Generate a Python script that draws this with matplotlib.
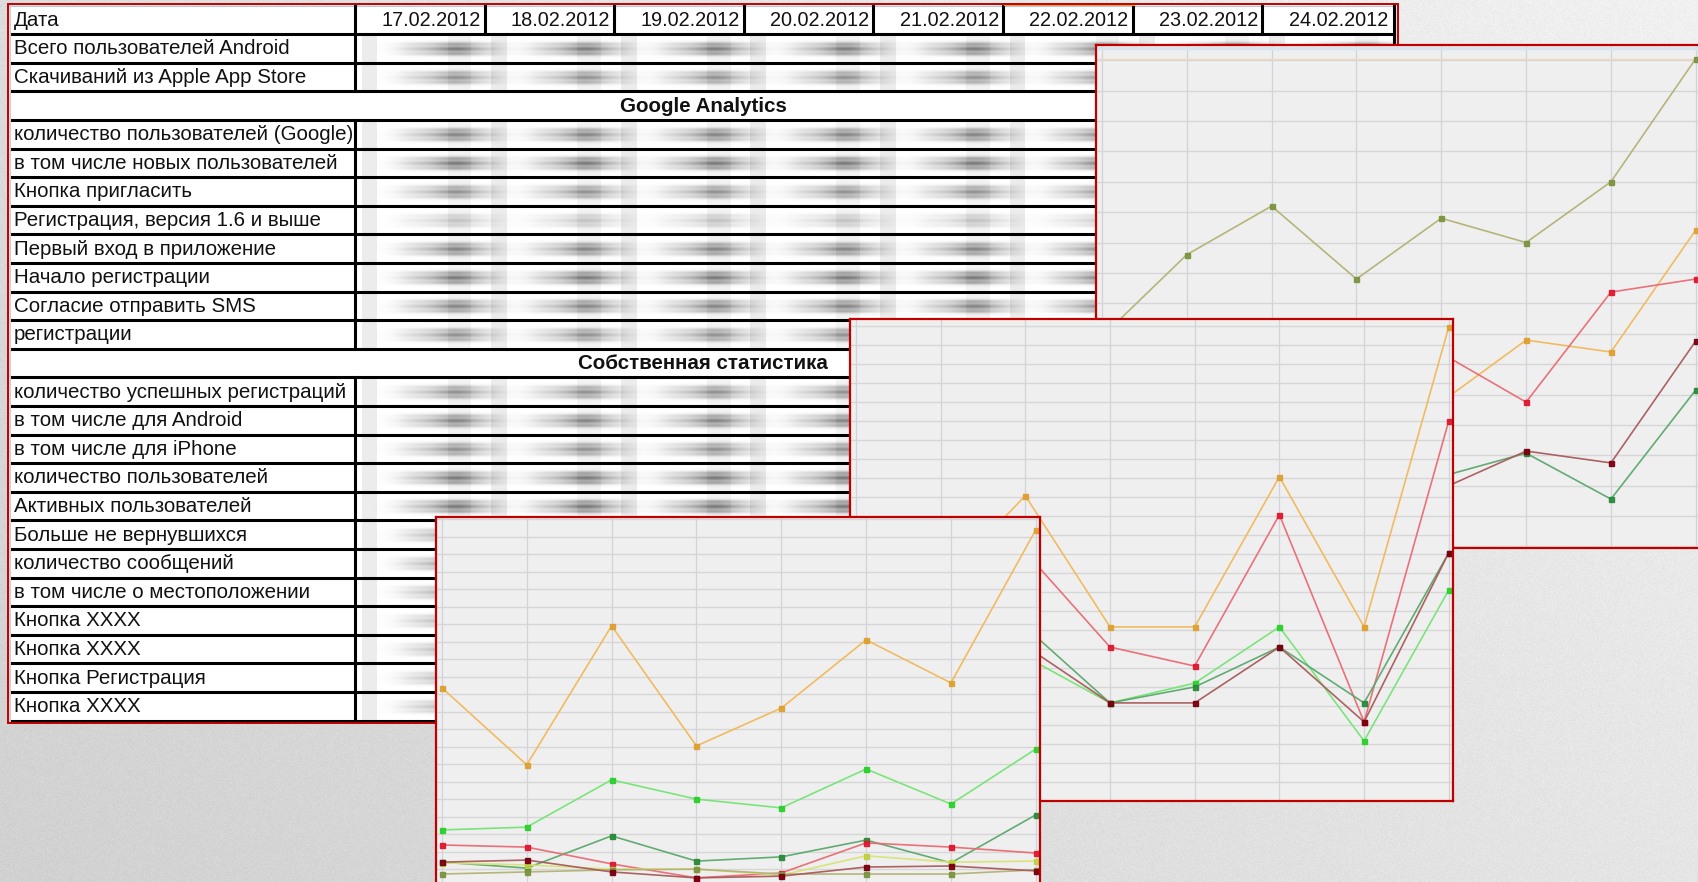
import numpy as np
import matplotlib.pyplot as plt
from matplotlib.patches import Rectangle

W, H = 1698, 882

# ---- table content ----
dates = ['17.02.2012', '18.02.2012', '19.02.2012', '20.02.2012',
         '21.02.2012', '22.02.2012', '23.02.2012', '24.02.2012']
row_labels = [
    'Дата',
    'Всего пользователей Android',
    'Скачиваний из Apple App Store',
    'Google Analytics',
    'количество пользователей (Google)',
    'в том числе новых пользователей',
    'Кнопка пригласить',
    'Регистрация, версия 1.6 и выше',
    'Первый вход в приложение',
    'Начало регистрации',
    'Согласие отправить SMS',
    'регистрации',
    'Собственная статистика',
    'количество успешных регистраций',
    'в том числе для Android',
    'в том числе для iPhone',
    'количество пользователей',
    'Активных пользователей',
    'Больше не вернувшихся',
    'количество сообщений',
    'в том числе о местоположении',
    'Кнопка XXXX',
    'Кнопка XXXX',
    'Кнопка Регистрация',
    'Кнопка XXXX',
]
section_rows = [3, 12]
# how dark the (hidden) numbers in each row come out
row_shade = [0, .66, .55, 0, .62, .68, .55, .28, .62, .68, .62, .55, 0,
             .55, .62, .55, .68, .68, .55, .62, .55, .5, .5, .5, .5]

# ---- chart series, one value per date ----
days = np.arange(8)

# back chart (top right)
a_olive = [690, 960, 1120, 880, 1080, 1000, 1200, 1605]
a_orange = [430, 380, 520, 400, 475, 679, 640, 1041]
a_red = [300, 260, 420, 350, 636, 475, 837, 880]
a_maroon = [120, 150, 220, 160, 189, 314, 275, 676]
a_green = [140, 170, 250, 190, 230, 307, 156, 515]

# middle chart
b_orange = [424, 571, 803, 458, 458, 853, 458, 1247]
b_red = [470, 600, 655, 405, 355, 753, 208, 1000]
b_dkgreen = [300, 350, 458, 258, 300, 405, 258, 653]
b_maroon = [280, 330, 408, 258, 258, 405, 208, 653]
b_ltgreen = [250, 320, 380, 258, 310, 458, 158, 555]

# front chart (bottom)
c_orange = [569, 349, 746, 403, 511, 706, 583, 1020]
c_ltgreen = [163, 171, 306, 251, 226, 337, 237, 394]
c_red = [120, 114, 66, 26, 40, 126, 114, 97]
c_dkgreen = [71, 54, 146, 74, 86, 134, 69, 206]
c_maroon = [71, 77, 43, 26, 31, 57, 60, 46]
c_ylgreen = [69, 63, 51, 51, 34, 89, 71, 74]
c_olive = [37, 43, 49, 51, 37, 37, 37, 49]

OLIVE = ('#b2b274', '#7c9440')
ORANGE = ('#f2b858', '#dea032')
RED = ('#ea6a74', '#e01830')
MAROON = ('#a85a5a', '#7a0010')
DKGREEN = ('#5aa86c', '#2a8a3a')
LTGREEN = ('#74e474', '#2cd02c')
YLGREEN = ('#d8e474', '#c0d040')

BORDER = '#c00000'

plt.rcParams['font.family'] = ['Liberation Sans', 'DejaVu Sans']

fig = plt.figure(figsize=(W / 100, H / 100), dpi=100)
bg = fig.add_axes([0, 0, 1, 1])
bg.set_xlim(0, W)
bg.set_ylim(H, 0)
bg.axis('off')

# paper-like gray backdrop
xx, yy = np.meshgrid(np.arange(W), np.arange(H))
base = 0.82 + 0.08 * xx / W + 0.045 * (1 - yy / H)
grain = np.modf(np.sin(xx * 12.9898 + yy * 78.233) * 43758.5453)[0]
tex = np.clip(base + 0.035 * (np.abs(grain) - 0.5), 0, 1)
bg.imshow(np.dstack([tex, tex, tex]), extent=[0, W, H, 0], aspect='auto', zorder=0)

# ---- table ----
t_left, t_right = 10, 1394
t_top, row_h = 5.5, 28.6
lab_w = 355
col_w = 129.6
n_rows = len(row_labels)
t_bot = t_top + n_rows * row_h

bg.add_patch(Rectangle((t_left, t_top), t_right - t_left, t_bot - t_top,
                       facecolor='white', edgecolor='none', zorder=1))

# blurred figures inside the date cells
shade = np.zeros((H, W))
for r in range(1, n_rows):
    if r in section_rows:
        continue
    yc = t_top + row_h * (r + 0.5)
    y0, y1 = int(yc - 14), int(yc + 14)
    ys = np.arange(y0, y1)[:, None]
    prof_y = (0.38 * np.exp(-((ys - yc + 5) / 1.9) ** 2)
              + 0.45 * np.exp(-((ys - yc) / 2.3) ** 2)
              + 0.38 * np.exp(-((ys - yc - 5) / 1.9) ** 2)
              + 0.4 * np.exp(-((ys - yc) / 5.5) ** 2))
    for j in range(8):
        cx = lab_w + col_w * j
        x0, x1 = int(cx), int(min(cx + 170, t_right))
        xs = np.arange(x0, x1)[None, :]
        body = 1 / (1 + np.exp(-(xs - cx - 48) / 8)) * 1 / (1 + np.exp((xs - cx - 142) / 7))
        core = np.exp(-((xs - cx - 100) / 22) ** 2)
        band = 0.1 * ((xs > cx + 6) & (xs < cx + 22)) + 0.06 * ((xs > cx + 92) & (xs < cx + 116))
        shade[y0:y1, x0:x1] += row_shade[r] * (0.55 * body + 0.6 * core) * prof_y + band
shade = np.clip(shade, 0, 0.8)
over = np.zeros((H, W, 4))
over[..., :3] = 0.28
over[..., 3] = shade
bg.imshow(over, extent=[0, W, H, 0], aspect='auto', zorder=2)

# grid of the table
for i in range(1, n_rows + 1):
    y = t_top + i * row_h
    bg.plot([t_left, t_right], [y, y], color='black', lw=2.2, zorder=3,
            solid_capstyle='butt')
bg.plot([t_left, t_right], [t_top, t_top], color='#b8c8d8', lw=0.8, zorder=3)
bg.plot([t_left, t_left], [t_top, t_bot], color='#c8d0d8', lw=0.8, zorder=3)
for r in range(n_rows):
    if r in section_rows:
        continue
    ya, yb = t_top + r * row_h, t_top + (r + 1) * row_h
    bg.plot([lab_w, lab_w], [ya, yb], color='black', lw=2.2, zorder=3)
    bg.plot([t_right, t_right], [ya, yb], color='black', lw=2.2, zorder=3)
for j in range(1, 8):
    x = lab_w + col_w * j
    bg.plot([x, x], [t_top, t_top + row_h], color='black', lw=2.2, zorder=3)
bg.plot([1005, 1134], [t_top - 0.5, t_top - 0.5], color='#f0a040', lw=1.5, zorder=3)

# table text
fs = 14.8
for r, lab in enumerate(row_labels):
    yc = t_top + row_h * (r + 0.5) + 0.5
    if r in section_rows:
        bg.text(703, yc, lab, ha='center', va='center', fontsize=fs,
                fontweight='bold', color='#111111', zorder=4)
    else:
        bg.text(14, yc, lab, ha='left', va='center', fontsize=fs,
                color='#111111', zorder=4)
for j, d in enumerate(dates):
    bg.text(lab_w + col_w * (j + 1) - 4, t_top + row_h * 0.5 + 0.5, d,
            ha='right', va='center', fontsize=14.3, color='#111111', zorder=4)

bg.add_patch(Rectangle((8, 4), 1390, t_bot - 2, facecolor='none',
                       edgecolor=BORDER, lw=1.4, zorder=5))


def make_panel(left, top, width, height, ylim, step, series, z, header=False):
    ax = fig.add_axes([left / W, 1 - (top + height) / H, width / W, height / H],
                      zorder=z)
    ax.set_facecolor('#efefef')
    ax.set_xlim(-0.07, 7.05)
    ax.set_ylim(*ylim)
    ax.set_xticks(days)
    ax.set_yticks(np.arange(np.ceil(ylim[0] / step) * step, ylim[1], step))
    ax.tick_params(length=0, labelbottom=False, labelleft=False)
    ax.grid(axis='y', color='#d6d6d6', lw=1.0)
    ax.grid(axis='x', color='#d0d3dc', lw=0.9)
    ax.set_axisbelow(True)
    for s in ax.spines.values():
        s.set_color(BORDER)
        s.set_linewidth(1.6)
    if header:
        ax.axhline(ylim[1] - (ylim[1] - ylim[0]) * 3 / height, color='#d8e4f0', lw=2.5)
        ax.axhline(ylim[1] - (ylim[1] - ylim[0]) * 14 / height, color='#f0d8c0', lw=1.0)
    for vals, (lc, mc) in series:
        ax.plot(days, vals, color=lc, lw=1.2, marker='s', ms=3.6,
                mfc=mc, mec=mc, alpha=0.95)
    return ax


make_panel(1096, 45, 604, 503, (-5, 1650), 100,
           [(a_olive, OLIVE), (a_orange, ORANGE), (a_red, RED),
            (a_green, DKGREEN), (a_maroon, MAROON)], z=10, header=True)
make_panel(850, 319, 603, 482, (0, 1268), 50,
           [(b_orange, ORANGE), (b_red, RED), (b_ltgreen, LTGREEN),
            (b_dkgreen, DKGREEN), (b_maroon, MAROON)], z=11)
make_panel(436, 517, 604, 482, (-320, 1057), 50,
           [(c_orange, ORANGE), (c_ltgreen, LTGREEN), (c_dkgreen, DKGREEN),
            (c_red, RED), (c_ylgreen, YLGREEN), (c_olive, OLIVE),
            (c_maroon, MAROON)], z=12)

fig.savefig('out.png', dpi=100)
